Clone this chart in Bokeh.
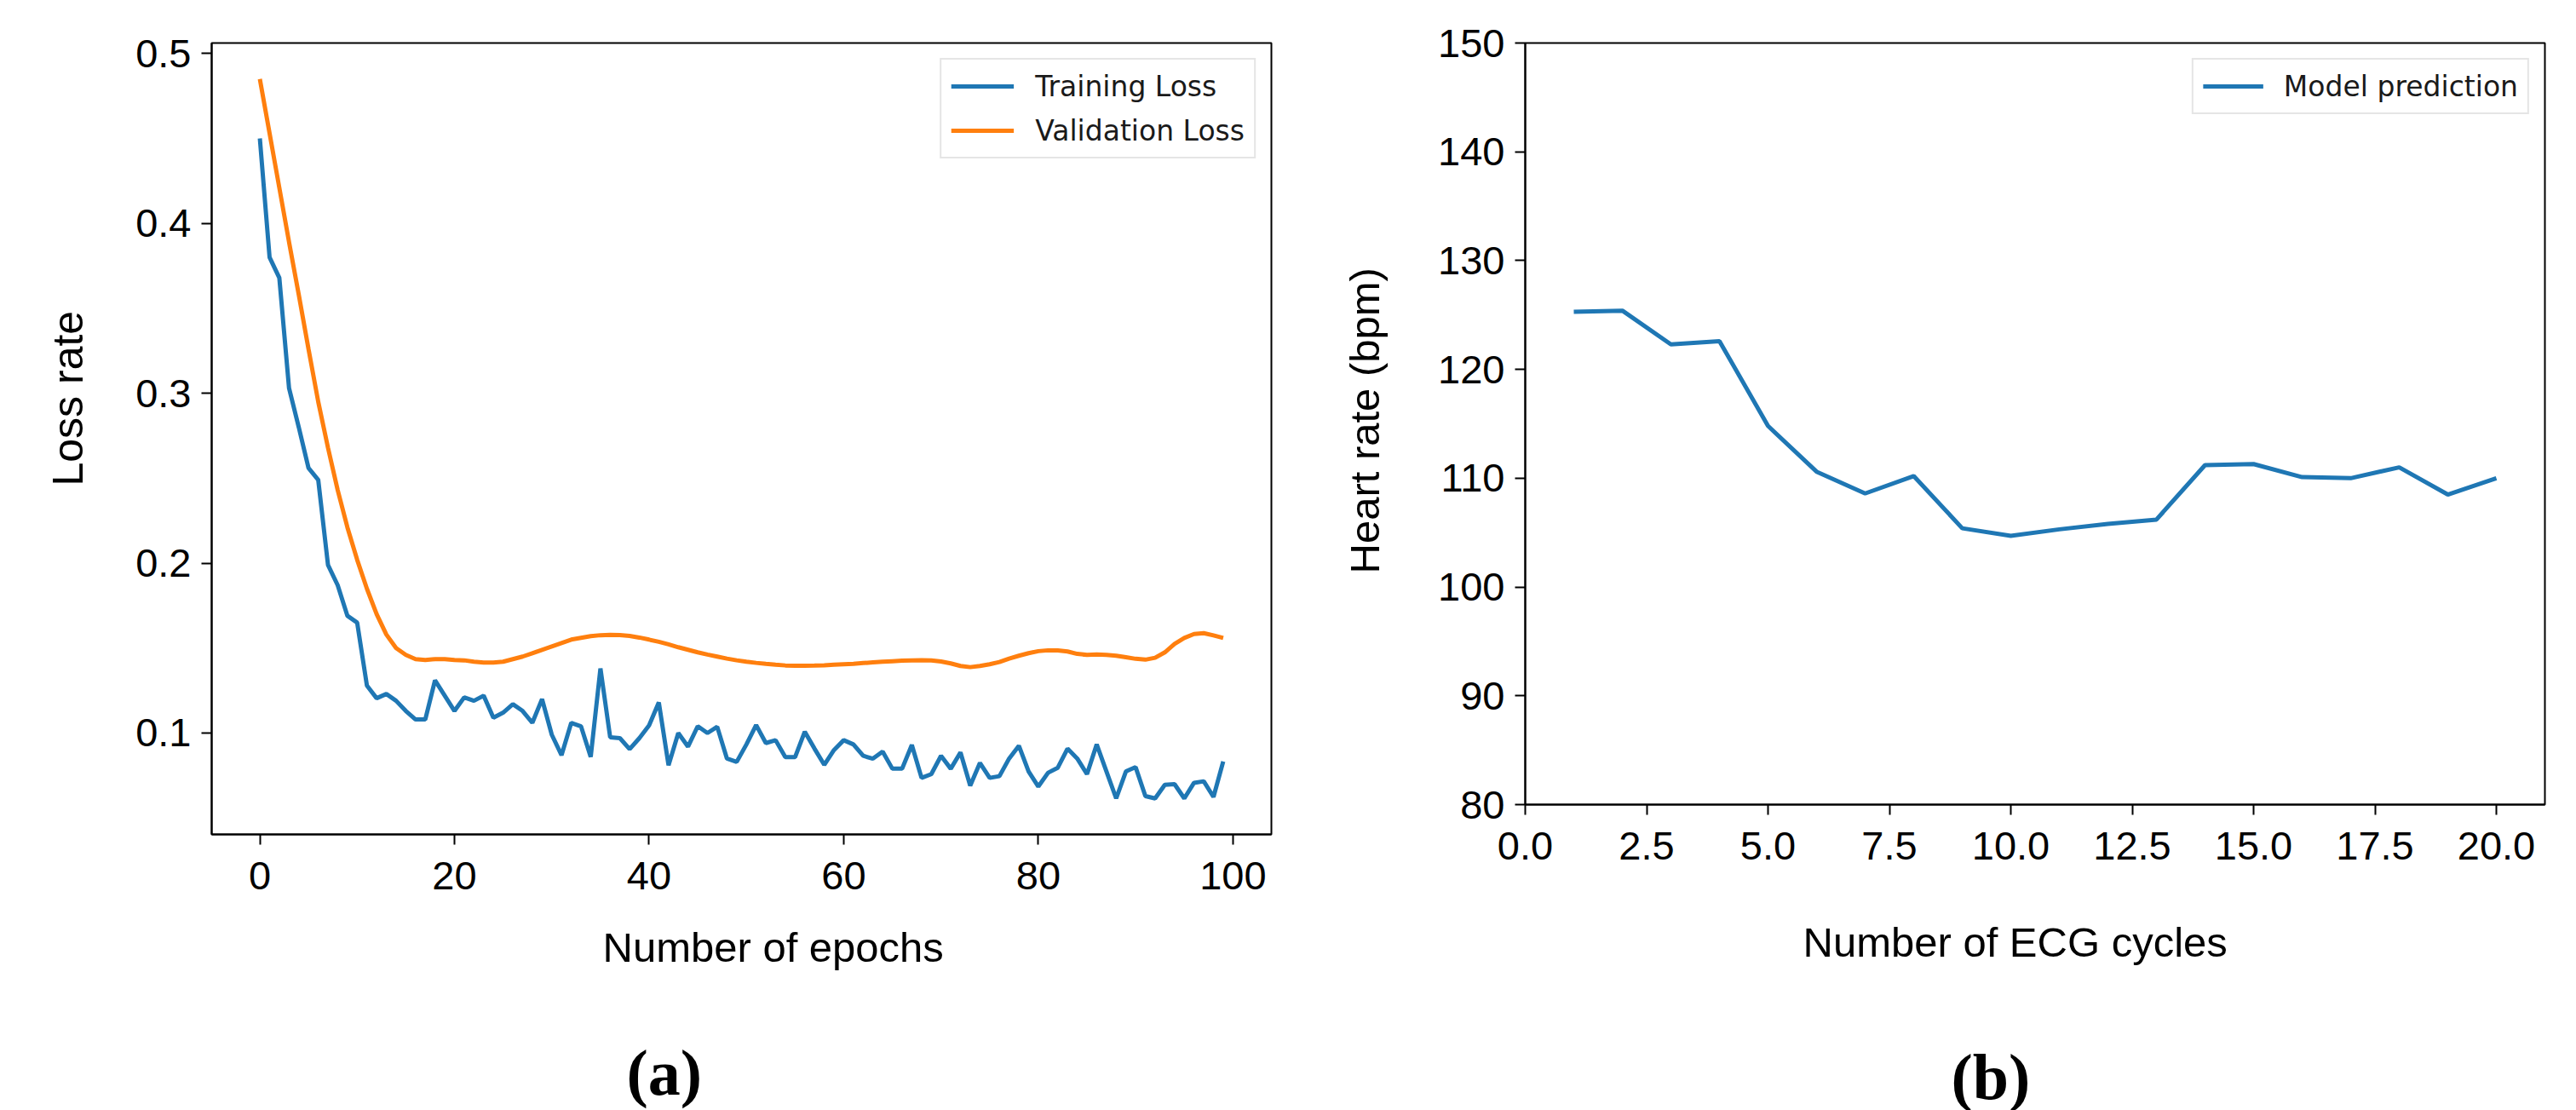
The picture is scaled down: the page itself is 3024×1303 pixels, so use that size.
from bokeh.plotting import figure
from bokeh.models import Range1d, FixedTicker, NumeralTickFormatter, Title
from bokeh.layouts import row
from bokeh.embed import file_html
from bokeh.resources import INLINE

# ---------------- data: panel (a) ----------------
epochs = list(range(100))
training_loss = [
    0.450, 0.380, 0.368, 0.303, 0.280, 0.256, 0.249, 0.199, 0.187, 0.169,
    0.165, 0.128, 0.1205, 0.123, 0.119, 0.113, 0.108, 0.108, 0.131, 0.122,
    0.113, 0.121, 0.119, 0.122, 0.109, 0.112, 0.117, 0.113, 0.106, 0.120,
    0.099, 0.087, 0.106, 0.104, 0.086, 0.138, 0.0975, 0.097, 0.0905, 0.097,
    0.1045, 0.118, 0.081, 0.100, 0.092, 0.104, 0.100, 0.1037, 0.085, 0.083,
    0.0933, 0.1047, 0.0941, 0.0958, 0.0858, 0.0858, 0.1008, 0.0908, 0.0813, 0.090,
    0.0958, 0.0933, 0.0866, 0.0849, 0.0891, 0.079, 0.079, 0.093, 0.0736, 0.0758,
    0.0866, 0.079, 0.0886, 0.069, 0.0824, 0.0736, 0.0746, 0.085, 0.0925, 0.0774,
    0.0685, 0.0766, 0.0796, 0.0908, 0.085, 0.0758, 0.0933, 0.0774, 0.0615, 0.0774,
    0.0799, 0.0629, 0.0615, 0.0695, 0.0699, 0.0615, 0.0707, 0.0716, 0.0624, 0.0833,
]
validation_loss = [
    0.485, 0.453, 0.421, 0.389, 0.358, 0.326, 0.295, 0.268, 0.243, 0.221,
    0.202, 0.185, 0.170, 0.158, 0.150, 0.146, 0.1435, 0.143, 0.1435, 0.1435,
    0.143, 0.1428, 0.142, 0.1415, 0.1415, 0.142, 0.1435, 0.145, 0.147, 0.149,
    0.151, 0.153, 0.155, 0.156, 0.157, 0.1576, 0.1578, 0.1577, 0.1572, 0.1562,
    0.155, 0.1537, 0.1522, 0.1505, 0.149, 0.1475, 0.1462, 0.145, 0.1438, 0.1428,
    0.142, 0.1413, 0.1407, 0.1402, 0.1398, 0.1396, 0.1396, 0.1397, 0.1399, 0.1402,
    0.1405, 0.1408, 0.1412, 0.1416, 0.142, 0.1423, 0.1426, 0.1428, 0.1429, 0.1427,
    0.1421, 0.141, 0.1395, 0.1388, 0.1395, 0.1405, 0.1418, 0.1438, 0.1455, 0.147,
    0.1482, 0.1487, 0.1486, 0.148, 0.1466, 0.146, 0.1462, 0.146, 0.1455, 0.1446,
    0.1437, 0.1432, 0.1443, 0.1475, 0.1525, 0.156, 0.1583, 0.1588, 0.1575, 0.156,
]
a_xticks = [0, 20, 40, 60, 80, 100]
a_yticks = [0.1, 0.2, 0.3, 0.4, 0.5]

# ---------------- data: panel (b) ----------------
ecg_cycles = list(range(1, 21))
heart_rate = [125.3, 125.4, 122.3, 122.6, 114.8, 110.6, 108.6, 110.2, 105.4, 104.7,
              105.3, 105.8, 106.2, 111.2, 111.3, 110.1, 110.0, 111.0, 108.5, 110.0]
b_xticks = [0, 2.5, 5, 7.5, 10, 12.5, 15, 17.5, 20]
b_yticks = [80, 90, 100, 110, 120, 130, 140, 150]

BLUE = "#1f77b4"
ORANGE = "#ff7f0e"
TICK_FONT = "Liberation Sans"
LABEL_FONT = "Liberation Sans"


def style(p, xticks, yticks):
    p.grid.visible = False
    p.outline_line_color = "black"
    p.outline_line_width = 2
    p.outline_line_alpha = 1
    for ax in (p.xaxis[0], p.yaxis[0]):
        ax.axis_line_color = "black"
        ax.axis_line_width = 2
        ax.major_tick_line_color = "black"
        ax.major_tick_line_width = 2
        ax.major_tick_out = 12
        ax.major_tick_in = 0
        ax.minor_tick_line_color = None
        ax.major_label_text_font = TICK_FONT
        ax.major_label_text_font_size = "47px"
        ax.major_label_text_color = "black"
    p.xaxis[0].ticker = FixedTicker(ticks=xticks)
    p.yaxis[0].ticker = FixedTicker(ticks=yticks)
    p.xaxis[0].major_label_standoff = 20
    p.yaxis[0].major_label_standoff = 12


def add_title(p, text, place, offset, standoff, size, font, bold=False):
    t = Title(text=text, align="left", offset=offset, standoff=standoff,
              text_font=font, text_font_size=size, text_color="black",
              text_font_style="bold" if bold else "normal")
    p.add_layout(t, place)


def style_legend(p, glyph_w, standoff):
    lg = p.legend[0]
    lg.location = "top_right"
    lg.margin = 18
    lg.label_text_font = "DejaVu Sans"
    lg.label_text_font_size = "33px"
    lg.label_text_color = "#1a1a1a"
    lg.glyph_width = glyph_w
    lg.glyph_height = 40
    lg.label_height = 40
    lg.label_standoff = standoff
    lg.padding = 11
    lg.spacing = 12
    lg.border_line_color = "#cccccc"
    lg.border_line_width = 2
    lg.background_fill_alpha = 0.9


# ---------------- panel (a) ----------------
ymin = min(min(training_loss), min(validation_loss))
ymax = max(max(training_loss), max(validation_loss))
ypad = 0.05 * (ymax - ymin)
xpad = 0.05 * (epochs[-1] - epochs[0])

p1 = figure(frame_width=1244, frame_height=929, output_backend="svg", toolbar_location=None,
            x_range=Range1d(epochs[0] - xpad, epochs[-1] + xpad),
            y_range=Range1d(ymin - ypad, ymax + ypad),
            min_border_left=248, min_border_right=12, min_border_top=44, min_border_bottom=314,
            background_fill_color="white", border_fill_color="white")
p1.line(epochs, training_loss, line_color=BLUE, line_width=5, legend_label="Training Loss")
p1.line(epochs, validation_loss, line_color=ORANGE, line_width=5, legend_label="Validation Loss")
style(p1, a_xticks, a_yticks)
style_legend(p1, 74, 25)
add_title(p1, "Loss rate", "left", 409, 98, "50px", LABEL_FONT)
add_title(p1, "Number of epochs", "below", 459, 72, "49px", LABEL_FONT)
add_title(p1, "(a)", "below", 487, 81, "76px", "Liberation Serif", bold=True)

# ---------------- panel (b) ----------------
p2 = figure(frame_width=1197, frame_height=894, output_backend="svg", toolbar_location=None,
            x_range=Range1d(0, 21), y_range=Range1d(80, 150),
            min_border_left=286, min_border_right=21, min_border_top=50, min_border_bottom=343,
            background_fill_color="white", border_fill_color="white")
p2.line(ecg_cycles, heart_rate, line_color=BLUE, line_width=5, legend_label="Model prediction")
style(p2, b_xticks, b_yticks)
p2.xaxis[0].formatter = NumeralTickFormatter(format="0.0")
style_legend(p2, 71, 24)
add_title(p2, "Heart rate (bpm)", "left", 271, 113, "49px", LABEL_FONT)
add_title(p2, "Number of ECG cycles", "below", 326, 131, "49px", LABEL_FONT)
add_title(p2, "(b)", "below", 500, 43, "76px", "Liberation Serif", bold=True)

layout = row(p1, p2)
open("out.html", "w").write(file_html(layout, INLINE))
